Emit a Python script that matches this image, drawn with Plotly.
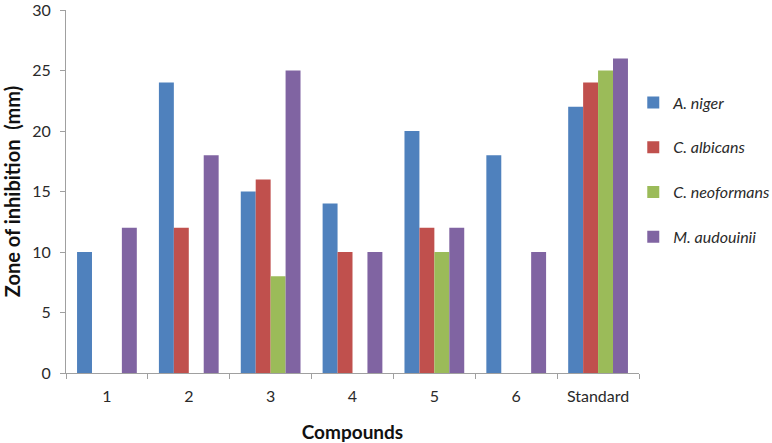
import plotly.graph_objects as go

categories = ["1", "2", "3", "4", "5", "6", "Standard"]
a_niger = [10, 24, 15, 14, 20, 18, 22]
c_albicans = [0, 12, 16, 10, 12, 0, 24]
c_neoformans = [0, 0, 8, 0, 10, 0, 25]
m_audouinii = [12, 18, 25, 10, 12, 10, 26]

series = [
    ("A. niger", a_niger, "#4F81BD"),
    ("C. albicans", c_albicans, "#C0504D"),
    ("C. neoformans", c_neoformans, "#9BBB59"),
    ("M. audouinii", m_audouinii, "#8064A2"),
]

font_family = "Lato, Open Sans, sans-serif"

fig = go.Figure()
for i, (name, vals, color) in enumerate(series):
    fig.add_trace(go.Bar(
        x=categories, y=vals, name="<i>%s</i>" % name,
        marker=dict(color=color, line=dict(width=0)),
        legendgroup="g%d" % i,
    ))

fig.update_layout(
    width=772, height=443,
    margin=dict(l=66, r=133, t=10, b=70, autoexpand=False),
    paper_bgcolor="white", plot_bgcolor="white",
    barmode="group", bargap=0.27, bargroupgap=0,
    font=dict(family=font_family, size=16, color="#2a2a2a"),
    legend=dict(x=0.99, y=0.792, xanchor="left", yanchor="top",
                font=dict(size=16, color="#2a2a2a"),
                tracegroupgap=21, itemwidth=30),
    xaxis=dict(
        showline=True, linecolor="#a0a0a0", linewidth=1,
        ticks="outside", tickson="boundaries", ticklen=5, tickcolor="#a0a0a0",
        showgrid=False, automargin=False,
        tickfont=dict(size=16), ticklabelstandoff=9,
        title=dict(text="<b>Compounds</b>", font=dict(size=19, color="#111111"), standoff=22),
    ),
    yaxis=dict(
        range=[0, 30], dtick=5, tick0=0,
        showline=True, linecolor="#a0a0a0", linewidth=1,
        ticks="outside", ticklen=5, tickcolor="#a0a0a0",
        showgrid=False, zeroline=False, automargin=False,
        tickfont=dict(size=16), ticklabelstandoff=6, ticklabeloverflow="allow",
        title=dict(text="<b>Zone of inhibition  (mm)</b>", font=dict(size=20, color="#111111"), standoff=14),
    ),
)

fig.write_html("out.html", config={"displayModeBar": False},
               post_script="document.body.style.margin='0px';")
